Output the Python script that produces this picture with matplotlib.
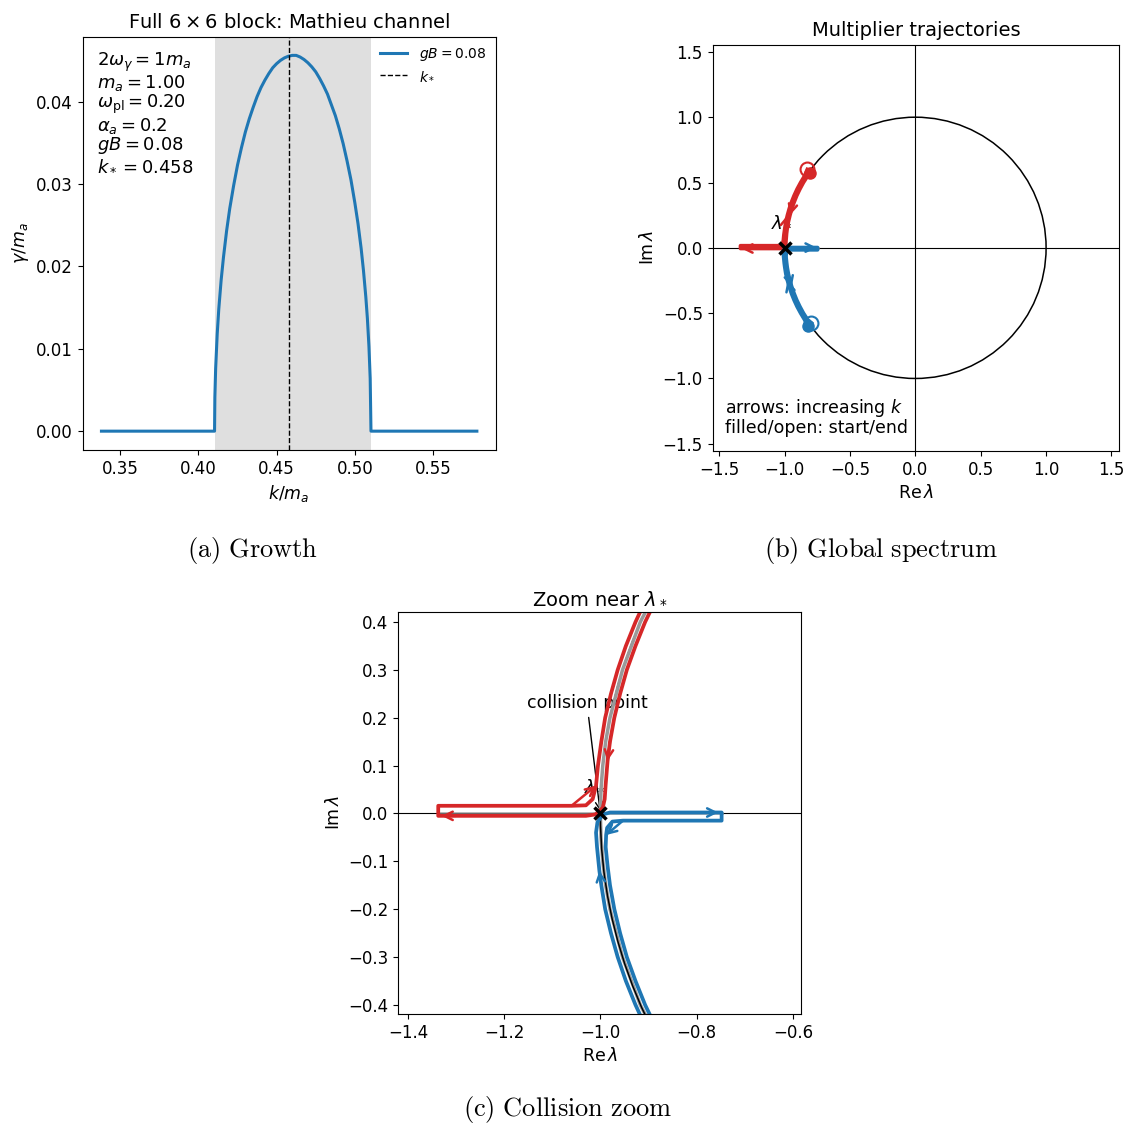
import matplotlib.pyplot as plt
from matplotlib.patches import Circle

plt.rcParams['xtick.labelsize'] = 12
plt.rcParams['ytick.labelsize'] = 12
plt.rcParams['axes.labelsize'] = 12.5

# ---- data ----
# (a) growth rate in the Mathieu band
k_vals = [0.338, 0.4103, 0.4105, 0.411, 0.412, 0.413, 0.4145, 0.416, 0.418, 0.420, 0.4225,
          0.425, 0.4275, 0.430, 0.4325, 0.435, 0.4375, 0.440, 0.4425, 0.445, 0.4475,
          0.450, 0.4525, 0.455, 0.4575, 0.460, 0.4625, 0.465, 0.4675, 0.470, 0.4725,
          0.475, 0.4775, 0.480, 0.4825, 0.485, 0.4875, 0.490, 0.4925, 0.495, 0.4975,
          0.500, 0.502, 0.504, 0.5055, 0.507, 0.508, 0.509, 0.5098, 0.5103, 0.578]
gamma_vals = [0.0, 0.0, 0.0041, 0.0076, 0.0118, 0.0148, 0.0183, 0.0211, 0.0243, 0.0270, 0.0298,
              0.0323, 0.0344, 0.0363, 0.0379, 0.0393, 0.0406, 0.0417, 0.0426, 0.0434, 0.0441,
              0.0446, 0.0450, 0.0453, 0.0455, 0.0456, 0.0456, 0.0454, 0.0451, 0.0447, 0.0442,
              0.0436, 0.0428, 0.0419, 0.0409, 0.0396, 0.0383, 0.0367, 0.0349, 0.0328, 0.0305,
              0.0277, 0.0252, 0.0222, 0.0195, 0.0163, 0.0137, 0.0103, 0.0064, 0.0, 0.0]
band_lo, band_hi = 0.4103, 0.5103
k_star = 0.458
params_text = ["$2\\omega_\\gamma = 1m_a$", "$m_a = 1.00$", "$\\omega_{\\rm pl} = 0.20$",
               "$\\alpha_a = 0.2$", "$gB = 0.08$", "$k_* = 0.458$"]

# (b),(c) multiplier trajectories (Re, Im), ordered by increasing k
red_re = [-0.805, -0.824, -0.856, -0.883, -0.907, -0.927, -0.945, -0.959, -0.971, -0.980,
          -0.985, -0.989, -0.991, -0.995, -1.010, -1.030, -1.300, -1.330, -1.337, -1.337,
          -1.060, -1.030, -1.016, -1.009, -1.005, -0.998, -0.990, -0.978, -0.964, -0.947,
          -0.927, -0.904, -0.877, -0.847, -0.826]
red_im = [0.575, 0.55, 0.50, 0.45, 0.40, 0.35, 0.30, 0.25, 0.20, 0.15,
          0.11, 0.06, 0.03, 0.012, -0.002, -0.005, -0.005, -0.005, -0.005, 0.016,
          0.016, 0.017, 0.030, 0.058, 0.10, 0.15, 0.20, 0.25, 0.30, 0.35,
          0.40, 0.45, 0.50, 0.55, 0.60]
blue_re = [-0.820, -0.847, -0.877, -0.904, -0.927, -0.947, -0.964, -0.978, -0.990, -0.998,
           -1.002, -1.007, -1.009, -1.006, -0.995, -0.980, -0.790, -0.755, -0.748, -0.748,
           -0.953, -0.975, -0.986, -0.988, -0.989, -0.985, -0.980, -0.971, -0.959, -0.945,
           -0.927, -0.907, -0.883, -0.856, -0.824, -0.795]
blue_im = [-0.60, -0.55, -0.50, -0.45, -0.40, -0.35, -0.30, -0.25, -0.20, -0.15,
           -0.12, -0.07, -0.04, -0.018, -0.002, 0.002, 0.002, 0.002, 0.002, -0.015,
           -0.015, -0.017, -0.030, -0.045, -0.07, -0.11, -0.15, -0.20, -0.25, -0.30,
           -0.35, -0.40, -0.45, -0.50, -0.55, -0.575]
# reference branch on the unit circle and on the real axis
ref_re = [-0.800, -0.866, -0.917, -0.954, -0.980, -0.989, -0.995, -0.9987, -1.0]
ref_im = [0.60, 0.50, 0.40, 0.30, 0.20, 0.15, 0.10, 0.05, 0.0]
ref_axis_re = [-1.337, -0.748]
lam_star = (-1.0, 0.0)

# arrows (index pairs into the trajectories)
arrows_b = {'red': [(6, 7), (26, 27), (16, 17)], 'blue': [(6, 7), (28, 29), (16, 17)]}
arrows_c = {'red': [(9, 10), (16, 17), (20, 23)], 'blue': [(9, 10), (16, 17), (20, 23)]}

RED, BLUE = '#d62728', '#1f77b4'

fig = plt.figure(figsize=(11.28, 11.26), dpi=100)

#region (a) growth
ax = fig.add_axes([0.0733, 0.6004, 0.3661, 0.3671])
ax.axvspan(band_lo, band_hi, color='0.5', alpha=0.25, lw=0)
ax.plot(k_vals, gamma_vals, color=BLUE, lw=2.2, label='$gB = 0.08$')
ax.axvline(k_star, color='black', ls='--', lw=1, label='$k_*$')
ax.set_xlabel('$k/m_a$')
ax.set_ylabel('$\\gamma/m_a$')
ax.set_title('Full $6\\times6$ block: Mathieu channel', fontsize=14)
ax.text(0.035, 0.966, '\n'.join(params_text), transform=ax.transAxes, va='top', ha='left',
        fontsize=13, linespacing=0.97)
ax.legend(loc='upper right', fontsize=10, frameon=False, labelspacing=0.4, borderaxespad=0.3)
#endregion


def draw_spectrum(ax, arrows, lab_off):
    ax.axhline(0, color='black', lw=0.8, zorder=1)
    ax.axvline(0, color='black', lw=0.8, zorder=1)
    ax.add_patch(Circle((0, 0), 1.0, fill=False, color='black', lw=1.1, zorder=1.6))
    # gray reference branches
    ax.plot(ref_re, ref_im, color='0.6', lw=2.5, zorder=1.7)
    ax.plot(ref_re, [-v for v in ref_im], color='0.6', lw=2.5, zorder=1.4)
    ax.plot(ref_axis_re, [0, 0], color='0.6', lw=2, alpha=0.7, zorder=1.4)
    for re, im, col in [(red_re, red_im, RED), (blue_re, blue_im, BLUE)]:
        ax.plot(re, im, color=col, lw=2.7, zorder=2)
        key = 'red' if col == RED else 'blue'
        for i, j in arrows[key]:
            ax.annotate('', xy=(re[j], im[j]), xytext=(re[i], im[i]),
                        arrowprops=dict(arrowstyle='->', color=col, lw=1.8,
                                        shrinkA=0, shrinkB=0, mutation_scale=15), zorder=2.5)
    # start (filled) / end (open)
    ax.plot(red_re[0], red_im[0], 'o', color=RED, ms=8, zorder=3)
    ax.plot(red_re[-1], red_im[-1], 'o', mfc='none', mec=RED, ms=10, mew=1.5, zorder=3)
    ax.plot(blue_re[0], blue_im[0], 'o', color=BLUE, ms=8, zorder=3)
    ax.plot(blue_re[-1], blue_im[-1], 'o', mfc='none', mec=BLUE, ms=10, mew=1.5, zorder=3)
    ax.plot(*lam_star, 'x', color='black', ms=8, mew=2.5, zorder=5)
    ax.annotate('$\\lambda_*$', xy=lam_star, xytext=lab_off, textcoords='offset points',
                ha='left', va='bottom', fontsize=13, zorder=1)
    ax.set_xlabel('$\\mathrm{Re}\\,\\lambda$')
    ax.set_ylabel('$\\mathrm{Im}\\,\\lambda$')


#region (b) global spectrum
axb = fig.add_axes([0.6318, 0.5995, 0.3605, 0.3608])
draw_spectrum(axb, arrows_b, (-10, 13))
axb.set_xlim(-1.55, 1.56)
axb.set_ylim(-1.555, 1.555)
axb.set_xticks([-1.5, -1.0, -0.5, 0.0, 0.5, 1.0, 1.5])
axb.set_yticks([-1.5, -1.0, -0.5, 0.0, 0.5, 1.0, 1.5])
axb.set_title('Multiplier trajectories', fontsize=14)
axb.text(0.03, 0.035, 'arrows: increasing $k$\nfilled/open: start/end', transform=axb.transAxes,
         fontsize=12.5, va='bottom', ha='left', linespacing=1.0)
#endregion

#region (c) collision zoom
axc = fig.add_axes([0.3531, 0.0995, 0.357, 0.357])
draw_spectrum(axc, arrows_c, (-12, 14))
axc.set_xlim(-1.42, -0.583)
axc.set_ylim(-0.419, 0.421)
axc.set_xticks([-1.4, -1.2, -1.0, -0.8, -0.6])
axc.set_yticks([-0.4, -0.3, -0.2, -0.1, 0.0, 0.1, 0.2, 0.3, 0.4])
axc.set_title('Zoom near $\\lambda_*$', fontsize=14)
axc.annotate('collision point', xy=lam_star, xytext=(-1.028, 0.231), ha='center', va='center',
             fontsize=12.5, zorder=1,
             arrowprops=dict(arrowstyle='->', color='black', lw=1))
#endregion

# sub-captions in LaTeX style
for x, y, s in [(0.2243, 0.5115, '(a)\\ Growth'), (0.781, 0.5115, '(b)\\ Global\\ spectrum'),
                (0.5027, 0.0145, '(c)\\ Collision\\ zoom')]:
    fig.text(x, y, '$\\mathrm{' + s + '}$', ha='center', va='center', fontsize=19,
             math_fontfamily='cm')

fig.savefig('out.png', dpi=100)
